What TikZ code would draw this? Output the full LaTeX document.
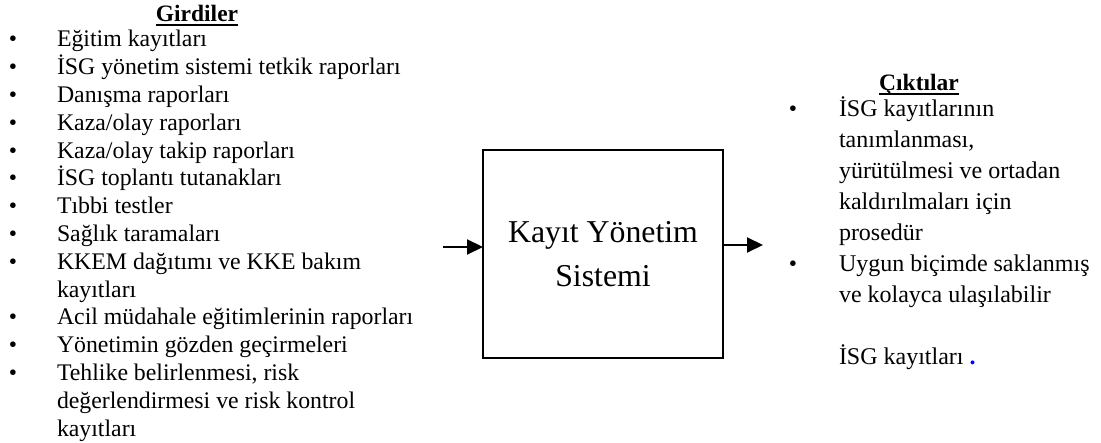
\documentclass[tikz,border=0pt]{standalone}
\usepackage{fontspec}
\setmainfont{Liberation Serif}
\usetikzlibrary{arrows.meta}
\begin{document}
\begin{tikzpicture}[x=1pt,y=-1pt,
  every node/.style={inner sep=0pt, outer sep=0pt},
  itemtext/.style={anchor=base west, font=\fontsize{23.8}{28}\selectfont},
  outtext/.style={anchor=base west, font=\fontsize{24}{31}\selectfont},
  bul/.style={anchor=base, font=\fontsize{23.5}{28}\selectfont},
  heading/.style={anchor=base, font=\fontsize{23.5}{28}\selectfont\bfseries},
  uline/.style={line width=1.8pt},
  sysbox/.style={draw, line width=1.7pt, minimum width=240pt, minimum height=208pt,
    align=center, font=\fontsize{31.8}{44}\selectfont},
  arr/.style={line width=2pt, -{Triangle[length=16pt,width=15pt]}}
]
\useasboundingbox (0,0) rectangle (1101,443);

% inputs
\node[heading] (gh) at (197,22) {Girdiler};
\draw[uline] ([yshift=-3pt]gh.base west) -- ([yshift=-3pt]gh.base east);

\foreach \i/\t/\b in {
  0/{Eğitim kayıtları}/1,
  1/{İSG yönetim sistemi tetkik raporları}/1,
  2/{Danışma raporları}/1,
  3/{Kaza/olay raporları}/1,
  4/{Kaza/olay takip raporları}/1,
  5/{İSG toplantı tutanakları}/1,
  6/{Tıbbi testler}/1,
  7/{Sağlık taramaları}/1,
  8/{KKEM dağıtımı ve KKE bakım}/1,
  9/{kayıtları}/0,
  10/{Acil müdahale eğitimlerinin raporları}/1,
  11/{Yönetimin gözden geçirmeleri}/1,
  12/{Tehlike belirlenmesi, risk}/1,
  13/{değerlendirmesi ve risk kontrol}/0,
  14/{kayıtları}/0}{
  \node[itemtext] (in\i) at (57,47+27.8*\i) {\t};
  \ifnum\b=1
    \node[bul] (inb\i) at (13,47+27.8*\i) {\textbullet};
  \fi
}

% system box
\node[sysbox] (sys) at (603,254) {Kayıt Yönetim\\Sistemi};
\coordinate (inL) at (443,247);
\coordinate (outR) at (763,245);
\draw[arr] (inL) -- (inL -| sys.west);
\draw[arr] (outR -| sys.east) -- (outR);

% outputs
\node[heading] (ch) at (919,91) {Çıktılar};
\draw[uline] ([yshift=-3pt]ch.base west) -- ([yshift=-3pt]ch.base east);

\foreach \i/\t in {
  0/{İSG kayıtlarının},
  1/{tanımlanması,},
  2/{yürütülmesi ve ortadan},
  3/{kaldırılmaları için},
  4/{prosedür},
  5/{Uygun biçimde saklanmış},
  6/{ve kolayca ulaşılabilir}}{
  \node[outtext] (out\i) at (839,117+31*\i) {\t};
}
\node[outtext] (out8) at (839,117+31*8) {İSG kayıtları {\color{blue}\textbf{.}}};
\node[bul] (outb0) at (793,117) {\textbullet};
\node[bul] (outb5) at (793,117+31*5) {\textbullet};
\end{tikzpicture}
\end{document}
